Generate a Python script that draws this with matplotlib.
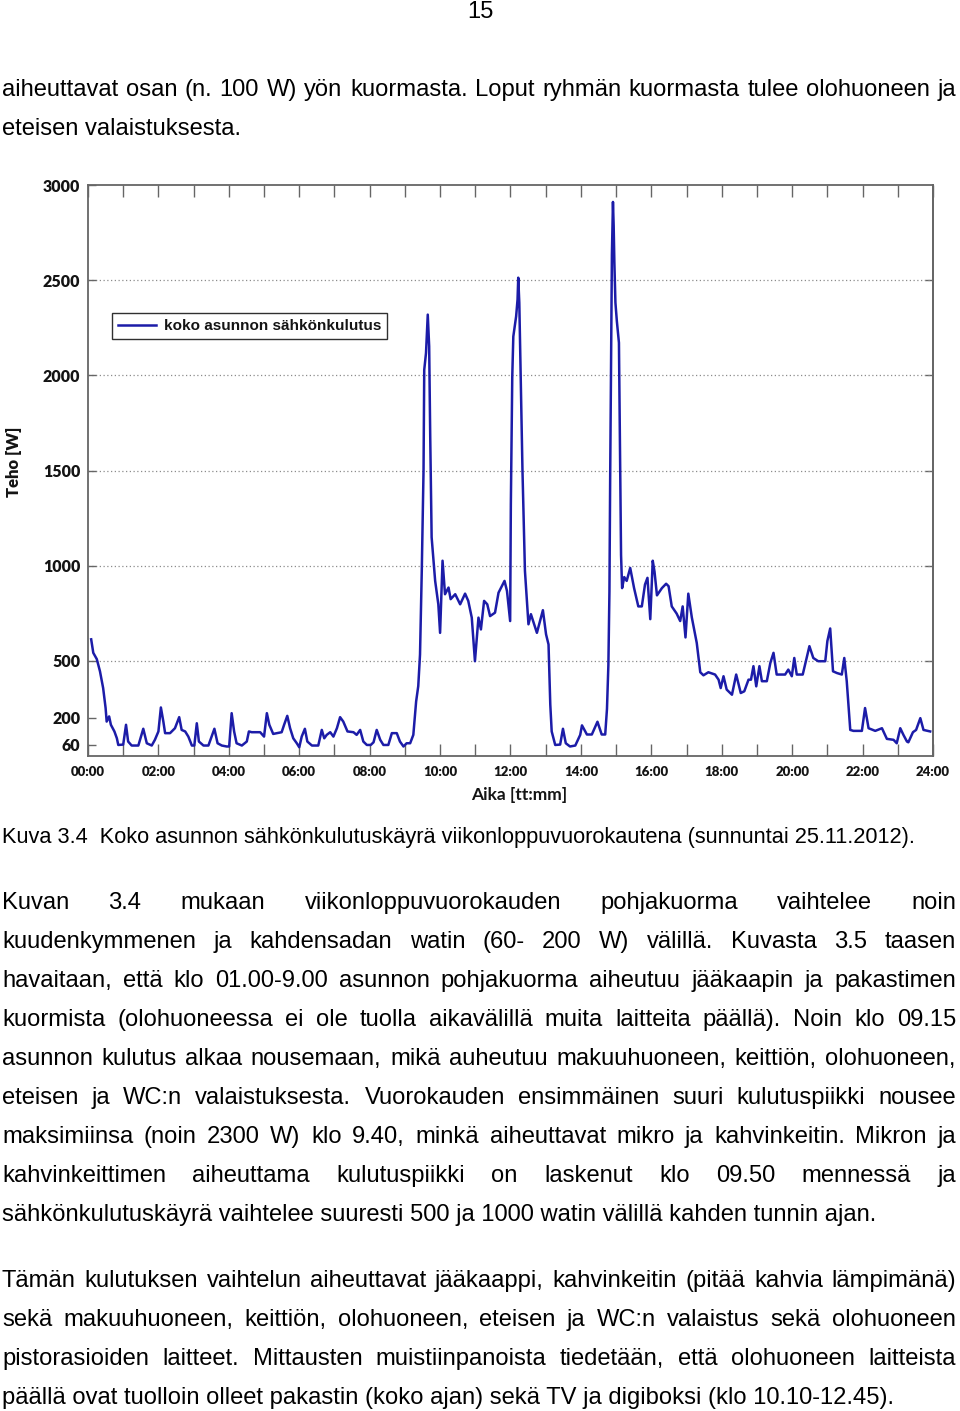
import matplotlib
matplotlib.use('Agg')
import matplotlib.pyplot as plt
from matplotlib.font_manager import FontProperties

# power curve: hour of day and watts
hours = [0.09, 0.15, 0.25, 0.34, 0.43, 0.50, 0.53, 0.60, 0.65, 0.75, 0.82, 0.86, 1.00, 1.08, 1.14,
         1.24, 1.43, 1.57, 1.67, 1.81, 1.90, 2.00, 2.07, 2.14, 2.19, 2.33, 2.47, 2.59, 2.66, 2.76,
         2.85, 2.95, 3.02, 3.09, 3.15, 3.28, 3.42, 3.59, 3.68, 3.80, 3.94, 4.01, 4.08, 4.15, 4.22,
         4.37, 4.51, 4.57, 4.65, 4.89, 5.00, 5.08, 5.15, 5.26, 5.50, 5.57, 5.66, 5.74, 5.83, 5.93,
         6.00, 6.07, 6.16, 6.23, 6.36, 6.54, 6.64, 6.71, 6.78, 6.88, 6.97, 7.07, 7.16, 7.25, 7.37,
         7.54, 7.63, 7.73, 7.82, 7.92, 8.03, 8.11, 8.20, 8.30, 8.39, 8.53, 8.63, 8.77, 8.86, 8.96,
         9.05, 9.15, 9.24, 9.32, 9.38, 9.43, 9.48, 9.53, 9.55, 9.60, 9.65, 9.69, 9.72, 9.76, 9.86,
         9.95, 10.00, 10.07, 10.14, 10.24, 10.30, 10.43, 10.57, 10.71, 10.80, 10.90, 10.99, 11.09,
         11.16, 11.25, 11.34, 11.42, 11.56, 11.66, 11.83, 11.90, 11.99, 12.01, 12.05, 12.08, 12.16,
         12.20, 12.22, 12.25, 12.29, 12.34, 12.41, 12.51, 12.58, 12.75, 12.84, 12.92, 13.01, 13.08,
         13.13, 13.17, 13.27, 13.41, 13.49, 13.57, 13.69, 13.84, 13.98, 14.03, 14.17, 14.31, 14.47,
         14.59, 14.69, 14.74, 14.78, 14.81, 14.83, 14.86, 14.88, 14.91, 14.93, 14.95, 14.98, 15.02,
         15.08, 15.11, 15.14, 15.17, 15.23, 15.30, 15.40, 15.51, 15.63, 15.73, 15.82, 15.89, 15.97,
         16.04, 16.09, 16.16, 16.30, 16.42, 16.49, 16.58, 16.72, 16.82, 16.89, 16.97, 17.05, 17.15,
         17.29, 17.39, 17.48, 17.62, 17.81, 17.91, 17.97, 18.05, 18.14, 18.29, 18.41, 18.54, 18.64,
         18.76, 18.83, 18.90, 18.98, 19.07, 19.14, 19.28, 19.38, 19.47, 19.56, 19.80, 19.89, 19.99,
         20.06, 20.13, 20.30, 20.49, 20.60, 20.74, 20.94, 21.00, 21.08, 21.16, 21.27, 21.41, 21.48,
         21.55, 21.65, 21.74, 21.98, 22.07, 22.17, 22.36, 22.55, 22.69, 22.88, 22.97, 23.07, 23.16,
         23.26, 23.30, 23.43, 23.52, 23.64, 23.73, 23.92]
power = [613, 542, 509, 445, 357, 252, 181, 208, 164, 129, 93, 58, 60, 164, 76,
         55, 55, 143, 67, 55, 85, 129, 255, 181, 120, 120, 146, 204, 137, 129,
         102, 55, 55, 172, 76, 55, 55, 143, 67, 55, 50, 50, 225, 129, 67,
         55, 76, 129, 125, 125, 102, 225, 164, 116, 125, 164, 211, 146, 93, 67,
         46, 102, 143, 76, 55, 55, 137, 93, 111, 125, 102, 146, 204, 181, 129,
         125, 111, 137, 76, 58, 58, 72, 137, 85, 58, 58, 120, 120, 76, 50,
         67, 67, 111, 287, 367, 533, 973, 1501, 2029, 2117, 2319, 2152, 1677, 1149, 920,
         797, 647, 1026, 850, 885, 824, 850, 797, 853, 815, 727, 498, 727,
         665, 815, 797, 735, 753, 858, 920, 867, 709, 1325, 1993, 2204, 2310,
         2398, 2513, 2381, 1976, 1501, 973, 692, 745, 647, 709, 766, 639, 586,
         270, 129, 58, 60, 143, 67, 50, 55, 111, 161, 113, 113, 180,
         113, 113, 247, 478, 863, 1440, 2152, 2632, 2911, 2787, 2594, 2382, 2286,
         2171, 1632, 1055, 882, 940, 920, 988, 882, 786, 786, 901, 936, 719,
         1026, 969, 844, 882, 905, 892, 786, 748, 709, 786, 623, 853, 728,
         594, 440, 424, 440, 428, 401, 357, 419, 349, 322, 428, 331, 340,
         401, 401, 472, 366, 472, 393, 393, 489, 542, 428, 428, 454, 419,
         515, 428, 428, 577, 515, 498, 498, 604, 670, 445, 436, 428, 515,
         393, 137, 132, 132, 252, 146, 132, 146, 90, 85, 67, 146, 111,
         76, 72, 125, 137, 199, 137, 129]

y_ticks = [60, 200, 500, 1000, 1500, 2000, 2500, 3000]
grid_levels = [500, 1000, 1500, 2000, 2500]
x_ticks = list(range(0, 25))
x_labels = ['%02d:00' % h if h % 2 == 0 else '' for h in x_ticks]
legend_label = 'koko asunnon sähkönkulutus'
y_label = 'Teho [W]'
x_label = 'Aika [tt:mm]'

# page text around the figure
page_no = '15'
para0 = ['aiheuttavat osan (n. 100 W) yön kuormasta. Loput ryhmän kuormasta tulee olohuoneen ja',
         'eteisen valaistuksesta.']
caption = 'Kuva 3.4  Koko asunnon sähkönkulutuskäyrä viikonloppuvuorokautena (sunnuntai 25.11.2012).'
para1 = ['Kuvan 3.4 mukaan viikonloppuvuorokauden pohjakuorma vaihtelee noin',
         'kuudenkymmenen ja kahdensadan watin (60- 200 W) välillä. Kuvasta 3.5 taasen',
         'havaitaan, että klo 01.00-9.00 asunnon pohjakuorma aiheutuu jääkaapin ja pakastimen',
         'kuormista (olohuoneessa ei ole tuolla aikavälillä muita laitteita päällä). Noin klo 09.15',
         'asunnon kulutus alkaa nousemaan, mikä auheutuu makuuhuoneen, keittiön, olohuoneen,',
         'eteisen ja WC:n valaistuksesta. Vuorokauden ensimmäinen suuri kulutuspiikki nousee',
         'maksimiinsa (noin 2300 W) klo 9.40, minkä aiheuttavat mikro ja kahvinkeitin. Mikron ja',
         'kahvinkeittimen aiheuttama kulutuspiikki on laskenut klo 09.50 mennessä ja',
         'sähkönkulutuskäyrä vaihtelee suuresti 500 ja 1000 watin välillä kahden tunnin ajan.']
para2 = ['Tämän kulutuksen vaihtelun aiheuttavat jääkaappi, kahvinkeitin (pitää kahvia lämpimänä)',
         'sekä makuuhuoneen, keittiön, olohuoneen, eteisen ja WC:n valaistus sekä olohuoneen',
         'pistorasioiden laitteet. Mittausten muistiinpanoista tiedetään, että olohuoneen laitteista',
         'päällä ovat tuolloin olleet pakastin (koko ajan) sekä TV ja digiboksi (klo 10.10-12.45).']

W, H = 960, 1411
fig = plt.figure(figsize=(W / 100, H / 100), dpi=100)
fig.patch.set_facecolor('white')

line_col = '#1c1ca8'
frame_col = '#666666'
txt_col = '#141414'
tick_font = 'Lato'

ax = fig.add_axes([88 / W, 1 - 756 / H, 845 / W, 571 / H])
ax.plot(hours, power, color=line_col, lw=1.8, label=legend_label, zorder=3)
for g in grid_levels:
    ax.axhline(g, color='#8c8c8c', lw=0.9, ls=(0, (1, 2)), zorder=1)
ax.set_xlim(0, 24)
ax.set_ylim(0, 3000)
ax.set_xticks(x_ticks)
ax.set_xticklabels(x_labels, fontfamily=tick_font, fontweight='heavy', fontsize=9.5, color=txt_col)
ax.set_yticks(y_ticks)
ax.set_yticklabels([str(v) for v in y_ticks], fontfamily=tick_font, fontweight='heavy',
                   fontsize=11.5, color=txt_col)
ax.tick_params(axis='x', direction='in', length=8.5, width=1.0, color=frame_col,
               top=True, pad=7)
ax.tick_params(axis='y', direction='in', length=5.5, width=1.0, color=frame_col, pad=5.5)
for s in ax.spines.values():
    s.set_color(frame_col)
    s.set_linewidth(1.3)

sec = ax.secondary_yaxis('right')
sec.set_yticks(grid_levels)
sec.set_yticklabels([])
sec.tick_params(direction='in', length=6, width=1.0, color=frame_col)
sec.spines['right'].set_color(frame_col)
sec.spines['right'].set_linewidth(1.3)

leg = ax.legend(loc='upper left', bbox_to_anchor=(0.0284, 0.7758), borderaxespad=0,
                fancybox=False, framealpha=1, edgecolor='#303030',
                prop=FontProperties(family='Liberation Sans', weight='bold', size=11),
                handlelength=2.5, handletextpad=0.5, borderpad=0.4)
leg.get_frame().set_linewidth(1.0)
for t in leg.get_texts():
    t.set_color(txt_col)

fig.text(13.5 / W, 1 - 462 / H, y_label, rotation=90, ha='center', va='center',
         fontfamily=tick_font, fontweight='heavy', fontsize=12, color=txt_col)
fig.text(519.5 / W, 1 - 795 / H, x_label, ha='center', va='center',
         fontfamily=tick_font, fontweight='bold', fontsize=12.5, color=txt_col)

# body text, justified the way the page is
renderer = fig.canvas.get_renderer()
body = FontProperties(family='Liberation Sans', size=17.15)
cap = FontProperties(family='Liberation Sans', size=15.65)


def put_line(text, base, justify, prop, x0=2, x1=956):
    if not justify:
        fig.text(x0 / W, 1 - base / H, text, fontproperties=prop, ha='left', va='baseline')
        return
    words = text.split(' ')
    widths = [renderer.get_text_width_height_descent(w, prop, ismath=False)[0] for w in words]
    gap = (x1 - x0 - sum(widths)) / (len(words) - 1)
    x = x0
    for w, wd in zip(words, widths):
        fig.text(x / W, 1 - base / H, w, fontproperties=prop, ha='left', va='baseline')
        x += wd + gap


def put_para(lines, first_base, step=39):
    for i, ln in enumerate(lines):
        put_line(ln, first_base + i * step, i < len(lines) - 1, body)


fig.text(480 / W, 1 - 18 / H, page_no, fontproperties=body, ha='center', va='baseline')
put_para(para0, 96)
put_line(caption, 843, False, cap)
put_para(para1, 909)
put_para(para2, 1287)

fig.savefig('out.png', dpi=100, facecolor='white')
